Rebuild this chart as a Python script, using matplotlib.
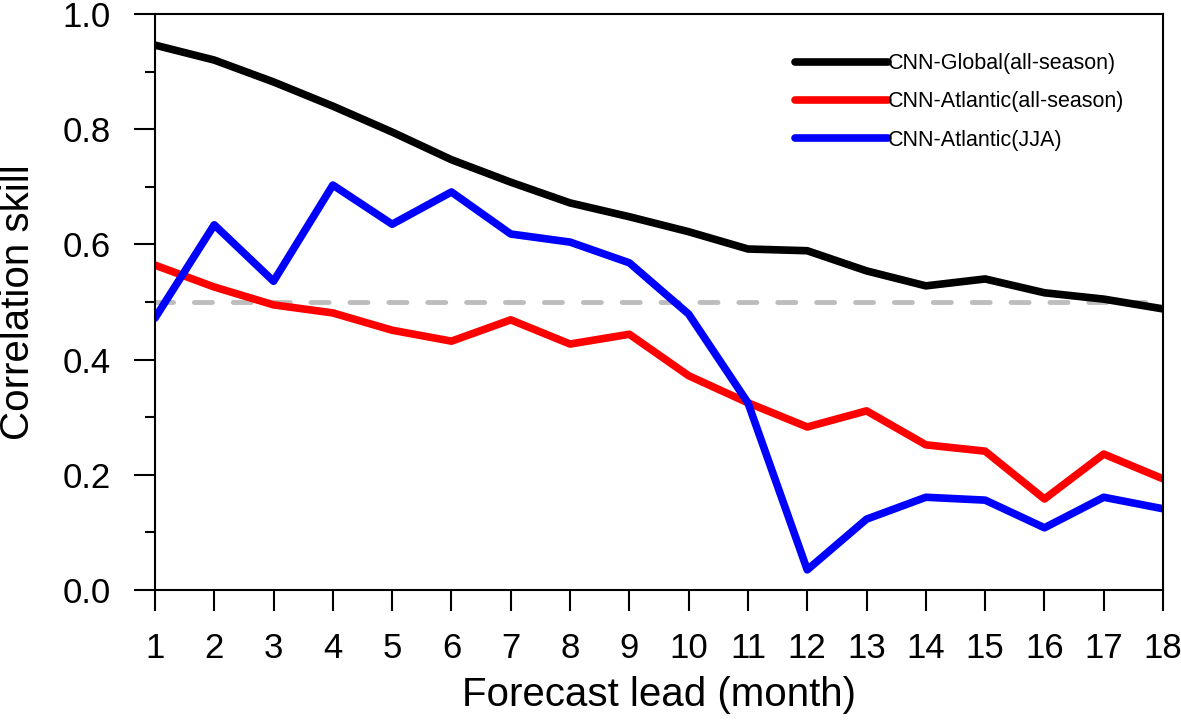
import matplotlib
matplotlib.use('Agg')
import matplotlib.pyplot as plt
from matplotlib.ticker import MultipleLocator, FormatStrFormatter

plt.rcParams['font.family'] = ['Liberation Sans', 'DejaVu Sans']
plt.rcParams['lines.scale_dashes'] = False

# data
lead = list(range(1, 19))
global_all = [0.946, 0.920, 0.882, 0.840, 0.795, 0.747, 0.708, 0.672, 0.648,
              0.622, 0.592, 0.589, 0.554, 0.528, 0.540, 0.516, 0.505, 0.488]
atl_all = [0.564, 0.526, 0.495, 0.481, 0.451, 0.432, 0.469, 0.427, 0.444,
           0.372, 0.325, 0.283, 0.311, 0.252, 0.241, 0.158, 0.236, 0.193]
atl_jja = [0.472, 0.634, 0.536, 0.703, 0.635, 0.691, 0.618, 0.604, 0.568,
           0.479, 0.325, 0.035, 0.123, 0.161, 0.156, 0.108, 0.161, 0.141]
labels = ['CNN-Global(all-season)', 'CNN-Atlantic(all-season)', 'CNN-Atlantic(JJA)']
colors = ['black', 'red', 'blue']
ref_level = 0.5

fig = plt.figure(figsize=(11.81, 7.21), dpi=100)
ax = fig.add_axes([0.1312, 0.1817, 0.8536, 0.7989])

# reference line at 0.5
ax.plot([lead[0], lead[-1]], [ref_level, ref_level], color='#bdbdbd', lw=3.5,
        dashes=(13, 15), dash_capstyle='round', zorder=1)

for y, c, lab in zip([global_all, atl_all, atl_jja], colors, labels):
    ax.plot(lead, y, color=c, lw=5.5, label=lab, solid_capstyle='round',
            solid_joinstyle='round', zorder=2)

ax.set_xlim(1, 18)
ax.set_ylim(0, 1)
ax.set_xticks(lead)
ax.yaxis.set_major_locator(MultipleLocator(0.2))
ax.yaxis.set_minor_locator(MultipleLocator(0.1))
ax.yaxis.set_major_formatter(FormatStrFormatter('%.1f'))
ax.tick_params(axis='both', which='major', direction='out', length=15, width=1.5,
               labelsize=25)
ax.tick_params(axis='x', which='major', pad=15)
ax.tick_params(axis='y', which='major', pad=17)
ax.tick_params(axis='y', which='minor', direction='out', length=7, width=1.5)
for s in ax.spines.values():
    s.set_linewidth(1.5)

ax.set_xlabel('Forecast lead (month)', fontsize=29, labelpad=8)
ax.set_ylabel('Correlation skill', fontsize=29, labelpad=18)

ax.legend(loc='upper left', bbox_to_anchor=(0.635, 0.932), frameon=False,
          fontsize=15.5, handlelength=4.3, handletextpad=0.0, labelspacing=0.8,
          borderpad=0, borderaxespad=0)

fig.savefig('out.png', dpi=100)
